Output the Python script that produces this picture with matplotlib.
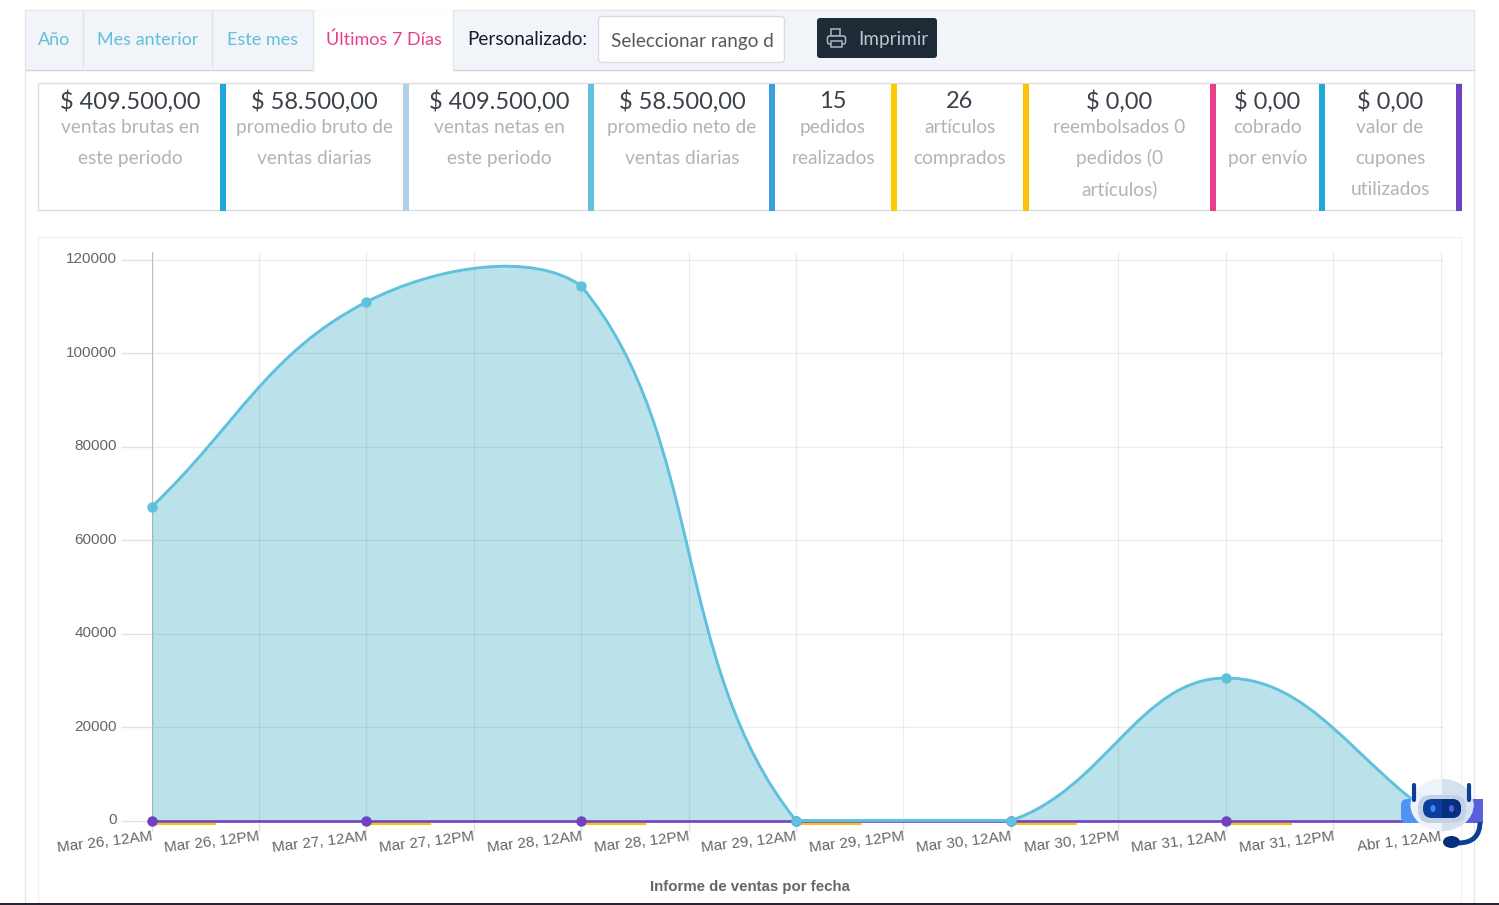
import matplotlib
matplotlib.use('Agg')
import matplotlib.pyplot as plt
from matplotlib.patches import Rectangle, FancyBboxPatch, PathPatch, Ellipse
from matplotlib.path import Path
from matplotlib.transforms import ScaledTranslation
import numpy as np

W, H = 1499, 905

# ---------- data ----------
tick_labels = ['Mar 26, 12AM', 'Mar 26, 12PM', 'Mar 27, 12AM', 'Mar 27, 12PM', 'Mar 28, 12AM',
               'Mar 28, 12PM', 'Mar 29, 12AM', 'Mar 29, 12PM', 'Mar 30, 12AM', 'Mar 30, 12PM',
               'Mar 31, 12AM', 'Mar 31, 12PM', 'Abr 1, 12AM']
day_pos = [0, 2, 4, 6, 8, 10, 12]
sales = [67100, 111000, 114450, 0, 0, 30500, 0]
zero_series = [0, 0, 0, 0, 0, 0, 0]
y_ticks = [0, 20000, 40000, 60000, 80000, 100000, 120000]
chart_title = 'Informe de ventas por fecha'

tabs = ['Año', 'Mes anterior', 'Este mes', 'Últimos 7 Días']
stat_values = ['$ 409.500,00', '$ 58.500,00', '$ 409.500,00', '$ 58.500,00', '15', '26',
               '$ 0,00', '$ 0,00', '$ 0,00']
stat_labels = [['ventas brutas en', 'este periodo'], ['promedio bruto de', 'ventas diarias'],
               ['ventas netas en', 'este periodo'], ['promedio neto de', 'ventas diarias'],
               ['pedidos', 'realizados'], ['artículos', 'comprados'],
               ['reembolsados 0', 'pedidos (0', 'artículos)'], ['cobrado', 'por envío'],
               ['valor de', 'cupones', 'utilizados']]
stat_centers = [130, 314.5, 499, 682, 833, 960, 1119.5, 1267.5, 1390]
bar_lefts = [220, 403, 588, 769, 891, 1023, 1210, 1319, 1456]
bar_colors = ['#1fa7d9', '#aed0e8', '#63c1de', '#3a9ee0', '#fbcb04', '#fdc107', '#e83e8c', '#20a8d8', '#6f42c1']

UI = 'Lato'
fig = plt.figure(figsize=(W / 100, H / 100), dpi=100, facecolor='white')

# ---------- page furniture in pixel coordinates ----------
bg = fig.add_axes([0, 0, 1, 1], zorder=0)
bg.set_xlim(0, W); bg.set_ylim(H, 0); bg.axis('off')

bg.add_patch(Rectangle((25.5, 10.5), 1449, 900, fc='white', ec='#e3e6e9', lw=1))
bg.add_patch(Rectangle((26, 11), 1448, 59.5, fc='#f1f4f8', ec='none'))
bg.plot([26, 1474], [70.5, 70.5], color='#d3d6d9', lw=1)
for x in [83.5, 212.5]:
    bg.plot([x, x], [11, 67], color='#dfe2e6', lw=1)
bg.add_patch(Rectangle((314, 10), 139.5, 62, fc='white', ec='none', zorder=3))
bg.plot([313.5, 313.5], [11, 70], color='#e4e7ea', lw=1, zorder=4)
bg.plot([453.5, 453.5], [11, 70], color='#e4e7ea', lw=1, zorder=4)
tab_x = [54.5, 148, 263, 383.5]
tab_c = ['#62bfdc', '#62bfdc', '#62bfdc', '#e83e8c']
for s, x, c in zip(tabs, tab_x, tab_c):
    bg.text(x, 45, s, ha='center', va='baseline', fontsize=13, color=c, family=UI, zorder=5)
bg.text(527.5, 45, 'Personalizado:', ha='center', va='baseline', fontsize=13.6, color='#1a1a2e', family=UI)
bg.add_patch(FancyBboxPatch((598.5, 16.5), 186, 46, boxstyle='round,pad=0,rounding_size=4', fc='white', ec='#d8dbdf', lw=1))
bg.text(611, 47, 'Seleccionar rango d', ha='left', va='baseline', fontsize=13.6, color='#555a60', family=UI)
bg.add_patch(FancyBboxPatch((817, 18), 120, 40, boxstyle='round,pad=0,rounding_size=3', fc='#1e2b37', ec='none'))
bg.text(858, 45, 'Imprimir', ha='left', va='baseline', fontsize=13.6, color='#b9c4ce', family=UI)
# printer icon
ic = '#a9b6c2'
bg.add_patch(Rectangle((831, 29), 9, 7, fc='none', ec=ic, lw=1.1))
bg.add_patch(FancyBboxPatch((827.5, 36), 18, 8, boxstyle='round,pad=0,rounding_size=2', fc='#1e2b37', ec=ic, lw=1.1))
bg.add_patch(Rectangle((831, 41), 11, 6, fc='#1e2b37', ec=ic, lw=1.1))

# stats strip
bg.add_patch(Rectangle((38.5, 83.5), 1423, 127, fc='white', ec='#dcdfe2', lw=1))
for x, c in zip(bar_lefts, bar_colors):
    bg.add_patch(Rectangle((x, 84), 6, 127, fc=c, ec='none'))
for x, v, ls in zip(stat_centers, stat_values, stat_labels):
    bg.text(x, 108.5, v, ha='center', va='baseline', fontsize=17, color='#3b4149', family=UI)
    for i, l in enumerate(ls):
        bg.text(x, 133 + 31 * i, l, ha='center', va='baseline', fontsize=13.8, color='#b3b3b3', family=UI)

# chart card
bg.add_patch(Rectangle((38.5, 236.5), 1423, 700, fc='white', ec='#f1f1f1', lw=1))
bg.add_patch(Rectangle((0, 903), W, 2, fc='#2a2338', ec='none', zorder=20))

# ---------- chart ----------
X0, X1, Y0, Y1 = 151.5, 1444.0, 820.5, 252.0
ax = fig.add_axes([X0 / W, 1 - Y0 / H, (X1 - X0) / W, (Y0 - Y1) / H], zorder=2)
ax.patch.set_alpha(0)
step = (1440.5 - 151.5) / 12
ax.set_xlim(0, (X1 - X0) / step)
px_per = 560.5 / 120000
ax.set_ylim(0, (Y0 - Y1) / px_per)
for s in ax.spines.values():
    s.set_visible(False)

# Chart.js style bezier, computed in screen space then mapped back to data
pts = ax.transData.transform(np.column_stack([day_pos, sales]))
bb = ax.transAxes.transform([[0, 0], [1, 1]])
T = 0.4
verts = [pts[0]]; codes = [Path.MOVETO]
n = len(pts)
def ctrl(i):
    p0, p1, p2 = pts[max(i - 1, 0)], pts[i], pts[min(i + 1, n - 1)]
    d01, d12 = np.linalg.norm(p1 - p0), np.linalg.norm(p2 - p1)
    s = d01 + d12
    return p1 - T * d01 / s * (p2 - p0), p1 + T * d12 / s * (p2 - p0)
for i in range(n - 1):
    a = np.clip(ctrl(i)[1], bb[0], bb[1]); b = np.clip(ctrl(i + 1)[0], bb[0], bb[1])
    verts += [a, b, pts[i + 1]]
    codes += [Path.CURVE4] * 3
inv = ax.transData.inverted()
v_data = inv.transform(np.array(verts))
line_path = Path(v_data, codes)
fill_path = Path(np.vstack([v_data, [[day_pos[-1], 0], [day_pos[0], 0], [day_pos[0], 0]]]),
                 codes + [Path.LINETO, Path.LINETO, Path.CLOSEPOLY])

# grid and ticks
ax.set_xticks(range(13)); ax.set_yticks(y_ticks)
ax.set_xticklabels(tick_labels, rotation=7, ha='right', rotation_mode='anchor', fontsize=11,
                   family='Liberation Sans', color='#666666')
ax.set_yticklabels([str(v) for v in y_ticks], fontsize=11, family='Liberation Sans', color='#666666')
ax.tick_params(axis='x', length=8, width=1, color='#e2e2e2', pad=-1.3, direction='out')
ax.tick_params(axis='y', length=22, width=1, color='#e2e2e2', pad=3, direction='out')
up = ScaledTranslation(0, 1.5 / 72, fig.dpi_scale_trans)
for lbl in ax.get_yticklabels():
    lbl.set_transform(lbl.get_transform() + up)
ax.grid(True, color='black', alpha=0.075, lw=0.9)
ax.set_axisbelow(False)
ax.axvline(0, color='#cfcfcf', lw=1, zorder=1)

ax.add_patch(PathPatch(fill_path, fc='#5dbccf', alpha=0.42, ec='none', zorder=2))
down = ScaledTranslation(0, -2.2 / 72, fig.dpi_scale_trans)
ax.plot(day_pos, zero_series, color='#fdc107', lw=1.5, dashes=(30.7, 72.6), clip_on=False, zorder=3,
        transform=ax.transData + down)
ax.plot(day_pos, zero_series, color='#6f42c1', lw=1.9, clip_on=False, zorder=4)
ax.plot(day_pos, zero_series, 'o', color='#6f42c1', ms=6.5, clip_on=False, zorder=5)
ax.add_patch(PathPatch(line_path, fc='none', ec='#5fc1dd', lw=2.1, zorder=6, clip_on=False))
ax.plot(day_pos, sales, 'o', color='#5fc1dd', ms=6.5, clip_on=False, zorder=7)

bg.text(749.5, 886.5, chart_title, ha='center', va='center', fontsize=10.8, fontweight='bold',
        color='#666666', family='Liberation Sans')

# ---------- chat robot overlay ----------
fg = fig.add_axes([0, 0, 1, 1], zorder=5)
fg.set_xlim(0, W); fg.set_ylim(H, 0); fg.axis('off'); fg.patch.set_alpha(0)
fg.add_patch(FancyBboxPatch((1401, 799), 82, 24, boxstyle='round,pad=0,rounding_size=6', fc='#4f94f5', ec='none'))
fg.add_patch(Rectangle((1442, 799), 41, 24, fc='#5b5fdc', ec='none'))
fg.plot([1414.5, 1414.5], [785, 800], color='#0b3f94', lw=3, solid_capstyle='round')
fg.plot([1469.5, 1469.5], [785, 800], color='#0b3f94', lw=3, solid_capstyle='round')
fg.add_patch(Ellipse((1442, 805), 63, 52, fc='#eef3f9', ec='none'))
right_half = Ellipse((1442, 805), 63, 52, fc='#d6e1f0', ec='none')
fg.add_patch(right_half)
clip1 = Rectangle((1442, 770), 40, 70, transform=fg.transData)
right_half.set_clip_path(clip1)
fg.add_patch(FancyBboxPatch((1418, 795), 48, 28, boxstyle='round,pad=0,rounding_size=13', fc='#c3d0e6', ec='none'))
screen = FancyBboxPatch((1423, 799), 38, 19, boxstyle='round,pad=0,rounding_size=9', fc='#0b3f9f', ec='none')
fg.add_patch(screen)
dark = FancyBboxPatch((1423, 799), 38, 19, boxstyle='round,pad=0,rounding_size=9', fc='#06307d', ec='none')
fg.add_patch(dark)
dark.set_clip_path(Rectangle((1442, 790), 30, 40, transform=fg.transData))
fg.add_patch(Ellipse((1433, 808.5), 5, 7, fc='#3f8cf0', ec='none'))
fg.add_patch(Ellipse((1451.5, 808.5), 5, 7, fc='#5b5fdc', ec='none'))
fg.add_patch(PathPatch(Path([(1480, 822), (1480, 843), (1458, 843)], [Path.MOVETO, Path.CURVE3, Path.CURVE3]),
                       fc='none', ec='#0b3f94', lw=3.5))
fg.add_patch(Ellipse((1451.5, 842), 17, 12, fc='#06307d', ec='none'))

fig.savefig('out.png', dpi=100)
